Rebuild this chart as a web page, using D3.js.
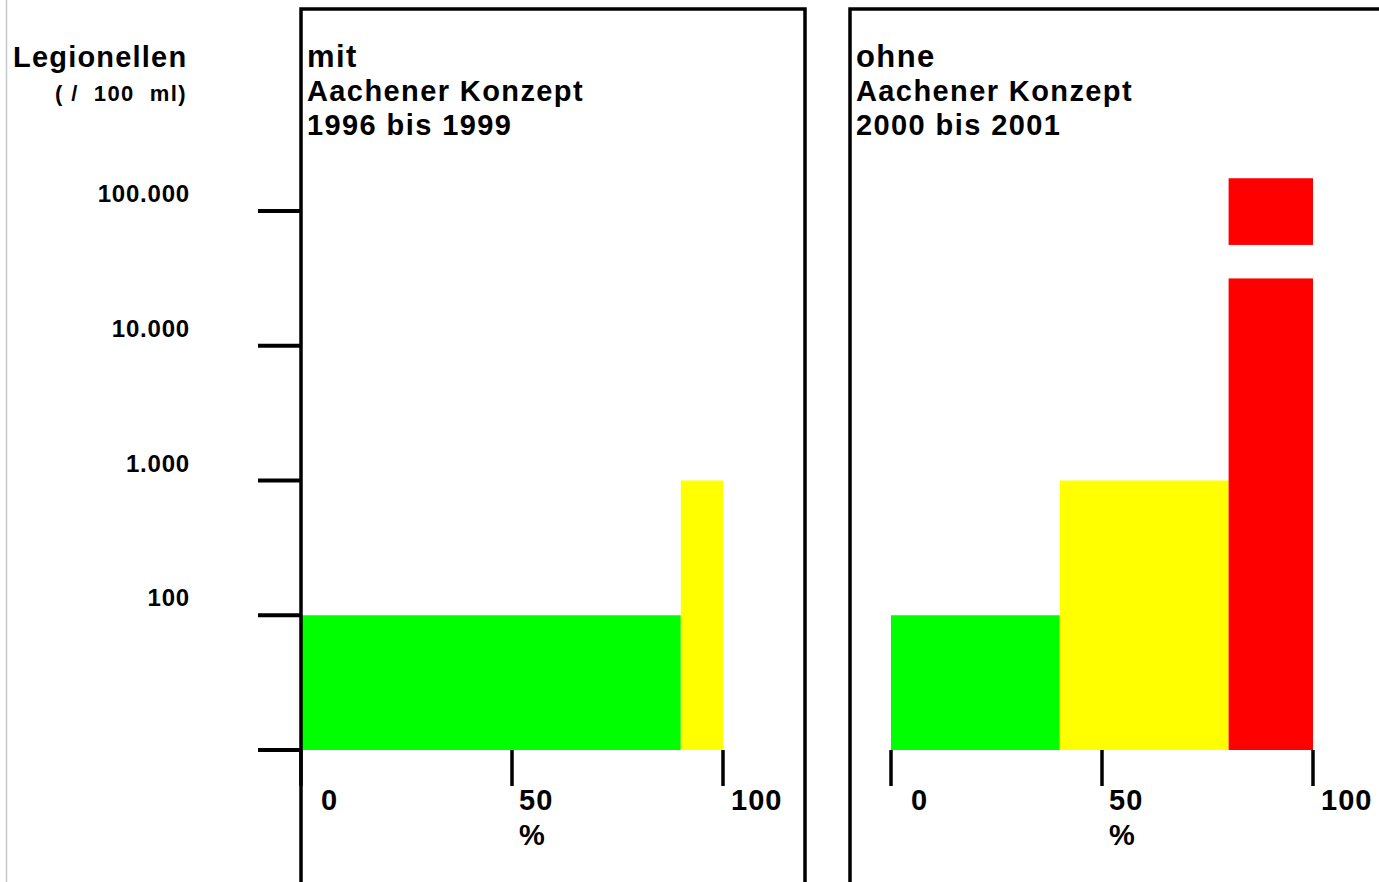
<!DOCTYPE html>
<meta charset="utf-8">
<style>
  body { margin: 0; background: #fff; }
  svg { display: block; }
  text { font-family: "Liberation Sans", Arial, sans-serif; font-weight: bold; fill: #000; }
</style>
<body>
<div class="chart"></div>
<script src="https://d3js.org/d3.v7.min.js"></script>
<script>
// Legionellen-Klassen (obere Grenze je Klasse, Legionellen / 100 ml)
const klassen = ["bis 100", "bis 1.000", "über 1.000"];
const farben = ["#00ff00", "#ffff00", "#ff0000"];
const klassenObergrenze = [100, 1000, 31600];

// Anteile der Proben je Klasse in %
const anteilMit = [90, 10, 0];
const anteilOhne = [40, 40, 20];

// abgesetzter Block der roten Säule (Ausreißer)
const rotAusreisser = [56000, 175000];

const yTicks = [10, 100, 1000, 10000, 100000];
const yTickLabels = ["", "100", "1.000", "10.000", "100.000"];
const xTicks = [0, 50, 100];
const xLabelDx = [20, 7, 8];

const titelMit = ["mit", "Aachener Konzept", "1996 bis 1999"];
const titelOhne = ["ohne", "Aachener Konzept", "2000 bis 2001"];

const width = 1379, height = 882;

const svg = d3.select(".chart").append("svg")
    .attr("width", width)
    .attr("height", height);

// faint left border line
svg.append("line")
    .attr("x1", 6.5).attr("x2", 6.5)
    .attr("y1", 0).attr("y2", height)
    .attr("stroke", "#c8c8c8")
    .attr("stroke-width", 1.5);

let y = d3.scaleLog().domain([10, 100000]).range([750, 211]);

// y axis title
svg.append("text").attr("x", 13).attr("y", 67)
    .style("font-size", "29px")
    .style("letter-spacing", "1.2px")
    .text("Legionellen");
svg.append("text").attr("x", 55).attr("y", 101)
    .style("font-size", "22px")
    .style("letter-spacing", "1.4px")
    .style("white-space", "pre")
    .text("( /  100  ml)");

// y ticks
svg.append("g").selectAll("line")
    .data(yTicks)
    .join("line")
    .attr("x1", 258).attr("x2", 301)
    .attr("y1", d => y(d)).attr("y2", d => y(d))
    .attr("stroke", "#000")
    .attr("stroke-width", 4);

svg.append("g").selectAll("text")
    .data(yTicks)
    .join("text")
    .attr("x", 190)
    .attr("y", d => y(d) - 9)
    .attr("text-anchor", "end")
    .style("font-size", "24px")
    .style("letter-spacing", "0.8px")
    .text((d, i) => yTickLabels[i]);

function panel(anteile, titel, x, frame, ausreisser) {
    let g = svg.append("g");

    // bars: stacked horizontally by cumulative percent
    let start = 0;
    let bars = anteile.map((a, i) => {
        let b = {x0: start, x1: start + a, top: klassenObergrenze[i], color: farben[i]};
        start += a;
        return b;
    }).filter(b => b.x1 > b.x0);

    g.append("g").selectAll("rect")
        .data(bars)
        .join("rect")
        .attr("x", d => x(d.x0))
        .attr("width", d => x(d.x1) - x(d.x0))
        .attr("y", d => y(d.top))
        .attr("height", d => y(10) - y(d.top))
        .attr("fill", d => d.color);

    if (ausreisser) {
        let last = bars[bars.length - 1];
        g.append("rect")
            .attr("x", x(last.x0))
            .attr("width", x(last.x1) - x(last.x0))
            .attr("y", y(ausreisser[1]))
            .attr("height", y(ausreisser[0]) - y(ausreisser[1]))
            .attr("fill", last.color);
    }

    // frame (open at the bottom)
    g.append("path")
        .attr("d", frame.d)
        .attr("fill", "none")
        .attr("stroke", "#000")
        .attr("stroke-width", 3.5);

    // x ticks
    g.append("g").selectAll("line")
        .data(xTicks)
        .join("line")
        .attr("x1", d => x(d)).attr("x2", d => x(d))
        .attr("y1", 750).attr("y2", 786)
        .attr("stroke", "#000")
        .attr("stroke-width", 3.5);

    g.append("g").selectAll("text")
        .data(xTicks)
        .join("text")
        .attr("x", (d, i) => x(d) + xLabelDx[i])
        .attr("y", 810)
        .style("font-size", "29px")
        .style("letter-spacing", "1px")
        .text(d => d);

    g.append("text")
        .attr("x", x(50) + 20)
        .attr("y", 845)
        .attr("text-anchor", "middle")
        .style("font-size", "29px")
        .text("%");

    // title
    g.append("g").selectAll("text")
        .data(titel)
        .join("text")
        .attr("x", frame.startX + 6)
        .attr("y", (d, i) => 67 + i * 34)
        .style("font-size", (d, i) => i === 0 ? "31px" : "29px")
        .style("letter-spacing", "1.4px")
        .text(d => d);
}

let xMit = d3.scaleLinear().domain([0, 100]).range([301, 723]);
let xOhne = d3.scaleLinear().domain([0, 100]).range([891, 1313]);

let frameMit = {d: "M301,900L301,9L805,9L805,900", startX: 301};
let frameOhne = {d: "M850,900L850,9L1400,9", startX: 850};

panel(anteilMit, titelMit, xMit, frameMit, null);
panel(anteilOhne, titelOhne, xOhne, frameOhne, rotAusreisser);
</script>
</body>
